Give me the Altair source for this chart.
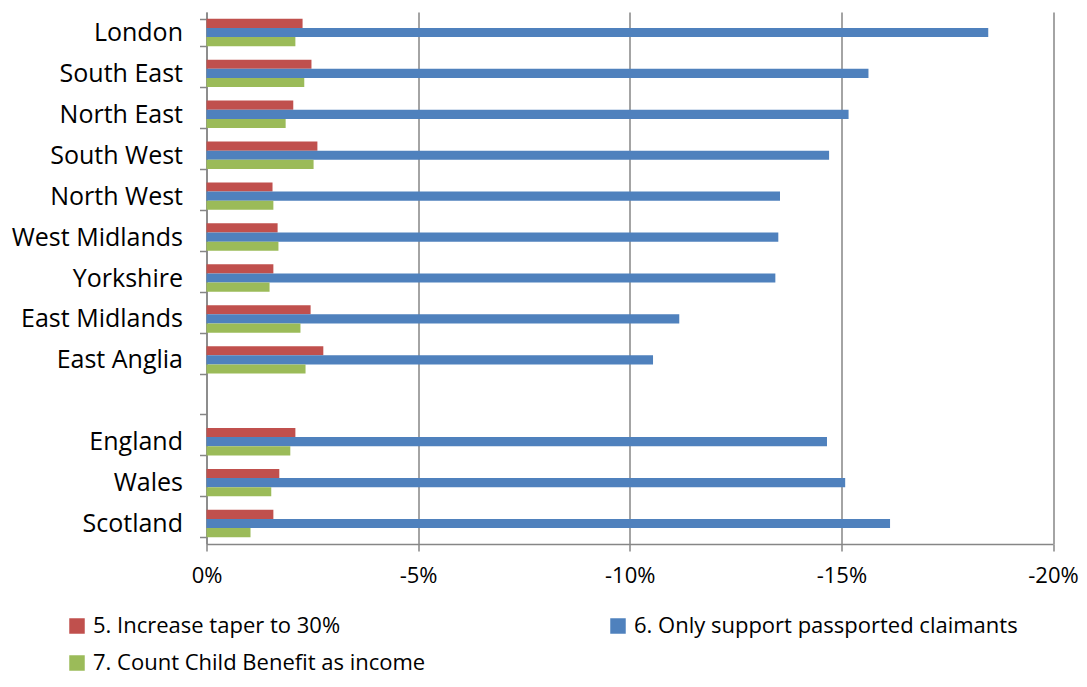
import altair as alt
import pandas as pd

regions = ["London", "South East", "North East", "South West", "North West",
           "West Midlands", "Yorkshire", "East Midlands", "East Anglia", " ",
           "England", "Wales", "Scotland"]
series = ["5. Increase taper to 30%", "6. Only support passported claimants",
          "7. Count Child Benefit as income"]
colors = ["#C0504D", "#4F81BD", "#9BBB59"]

taper = [-2.27, -2.48, -2.05, -2.62, -1.56, -1.68, -1.58, -2.46, -2.76, None, -2.10, -1.72, -1.58]
passported = [-18.47, -15.64, -15.17, -14.71, -13.55, -13.51, -13.44, -11.17, -10.55, None, -14.66, -15.09, -16.15]
child_benefit = [-2.10, -2.31, -1.87, -2.53, -1.58, -1.70, -1.49, -2.22, -2.34, None, -1.98, -1.53, -1.04]

x_ticks = [0, -5, -10, -15, -20]

rows = []
for s, vals in zip(series, [taper, passported, child_benefit]):
    for r, v in zip(regions, vals):
        if v is not None:
            rows.append({"region": r, "series": s, "value": v})
df = pd.DataFrame(rows)

FONT = "Open Sans"
GREY = "#868686"

chart = alt.Chart(df).mark_bar().encode(
    y=alt.Y("region:N", sort=regions,
            scale=alt.Scale(domain=regions, paddingInner=0.33, paddingOuter=0.165),
            axis=alt.Axis(title=None, tickBand="extent", tickSize=7, labelPadding=17,
                          grid=False, labelFontSize=25)),
    x=alt.X("value:Q",
            scale=alt.Scale(domain=[-20, 0], reverse=True, nice=False),
            axis=alt.Axis(title=None, values=x_ticks, grid=True, tickSize=7,
                          labelPadding=14, labelFlush=False, labelFontSize=22,
                          labelExpr="datum.value + '%'")),
    yOffset=alt.YOffset("series:N", sort=series,
                        scale=alt.Scale(domain=series, paddingInner=0, paddingOuter=0)),
    color=alt.Color("series:N",
                    scale=alt.Scale(domain=series, range=colors),
                    legend=alt.Legend(title=None, orient="none", legendX=-140.5, legendY=603,
                                      direction="horizontal",
                                      columns=2, columnPadding=181, rowPadding=15,
                                      symbolType="square", symbolSize=240,
                                      symbolStrokeWidth=0, labelFont=FONT,
                                      labelFontSize=22, labelColor="black",
                                      labelOffset=5, labelLimit=600)),
).properties(
    width=846.5, height=532,
    autosize=alt.AutoSizeParams(type="none"),
    padding={"left": 198.5, "top": 4, "right": 26, "bottom": 135},
).configure_axis(
    labelFont=FONT, labelColor="black",
    domainColor=GREY, domainWidth=1.5, tickColor=GREY, tickWidth=1.5,
    gridColor=GREY, gridWidth=1.5,
).configure_view(stroke=None)

chart.save("out.html", embed_options={"renderer": "svg", "actions": False})
